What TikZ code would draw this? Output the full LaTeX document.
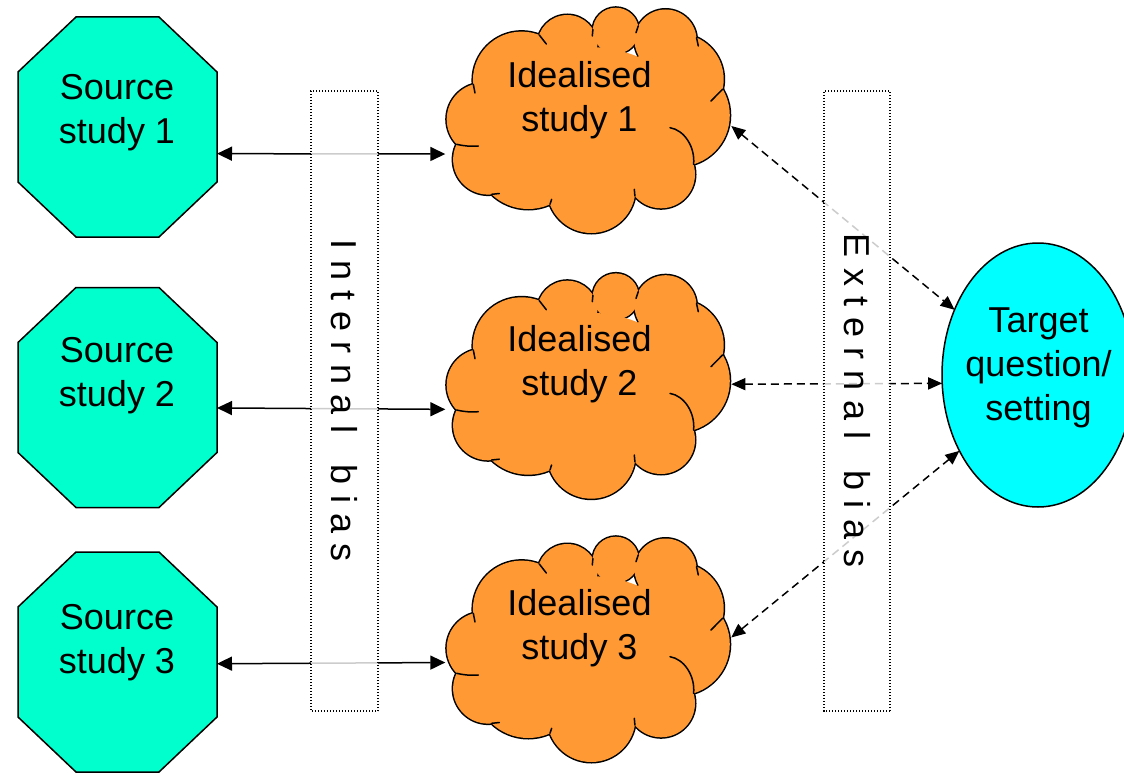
\documentclass[tikz,border=0pt]{standalone}
\usepackage{fontspec}
\setmainfont{Liberation Sans}
\usetikzlibrary{arrows.meta,shapes.geometric,calc}
\definecolor{octcol}{HTML}{00FFCC}
\definecolor{cloudcol}{HTML}{FF9933}
\definecolor{tgtcol}{HTML}{00FFFF}
\newcommand\gp{\hspace{10.5pt}}
\def\puffs{-105.3/-1.7/36.3, -66.7/-40.7/48.7, -21/-76/30, 27.5/-90.3/23, 77.3/-80.5/31, 89.7/-41.7/45.7, 90.2/-5.7/51.3, 72.7/53.3/34, 3/67.8/44.2, -60/34.7/53.3, -100.2/38.6/35}
\newcommand\octagonof[1]{%
  \path[octline] ($(#1.north west)+(58,0)$) -- ($(#1.north east)+(-58,0)$)
    -- ($(#1.north east)+(0,55)$) -- ($(#1.south east)+(0,-55)$)
    -- ($(#1.south east)+(-58,0)$) -- ($(#1.south west)+(58,0)$)
    -- ($(#1.south west)+(0,-55)$) -- ($(#1.north west)+(0,55)$) -- cycle;}
\newcommand\cloudat[1]{%
  \begin{scope}[shift={(#1.center)}]
    \foreach \cx/\cy/\cr in \puffs {\draw[line width=3pt] (\cx,\cy) circle[radius=\cr];}
    \foreach \cx/\cy/\cr in \puffs {\fill[cloudcol] (\cx,\cy) circle[radius=\cr];}
    \fill[cloudcol] (-0.3,-0.7) ellipse[x radius=100,y radius=73.3];
    \draw[cloudtail] (-131.7,23.3) to[bend right=8] (-110,25);
    \draw[cloudtail] (-115,-36.7) -- (-113.3,-28);
    \draw[cloudtail] (-49,-86) -- (-42,-77);
    \draw[cloudtail] (4.6,-91.4) -- (4,-85);
    \draw[cloudtail] (50,-95.1) -- (47.7,-88.3);
    \draw[cloudtail] (108.2,-83.4) -- (110,-75);
    \draw[cloudtail] (134.3,-31.8) -- (122.7,-20);
    \draw[cloudtail] (81.7,6.7) .. controls (96,9) and (107,26) .. (105.3,43.4);
    \draw[cloudtail] (46.6,75) -- (46,68.3);
    \draw[cloudtail] (-38.3,83.2) -- (-36.7,78.3);
    \draw[cloudtail] (-96.6,73.3) -- (-89,72.5);
  \end{scope}}

\begin{document}
\begin{tikzpicture}[x=1pt,y=-1pt,
  lbl/.style={align=center,font=\fontsize{36}{44}\selectfont,inner sep=0pt},
  octbox/.style={minimum width=199,minimum height=220,inner sep=0pt,outer sep=0pt},
  octline/.style={draw=black,fill=octcol,line width=1.5pt,line join=miter},
  cloudbox/.style={minimum width=286,minimum height=226,inner sep=0pt,outer sep=0pt},
  cloudtail/.style={line width=1.5pt,line cap=round},
  tgt/.style={ellipse,draw=black,fill=tgtcol,line width=1.5pt,minimum width=192,minimum height=264,inner sep=0pt,outer sep=0pt},
  solidarrow/.style={{Triangle[length=15pt,width=14pt]}-{Triangle[length=15pt,width=14pt]},line width=1.5pt},
  dasharrow/.style={{Triangle[length=14pt,width=12pt]}-{Triangle[length=14pt,width=12pt]},line width=1.5pt,dash pattern=on 8pt off 5pt},
  biasbox/.style={rotate=-90,draw=black,line width=1.2pt,dash pattern=on 1.2pt off 1.8pt,fill=white,fill opacity=0.8,text opacity=1,minimum width=620,minimum height=67,inner sep=0pt,font=\fontsize{36}{44}\selectfont}
]
\useasboundingbox (0,0) rectangle (1124,773);

% source studies (octagons)
\node[octbox] (s1) at (117.5,127) {};
\node[octbox] (s2) at (117.5,397.5) {};
\node[octbox] (s3) at (117.5,662) {};
\octagonof{s1}
\octagonof{s2}
\octagonof{s3}

% idealised studies (clouds)
\node[cloudbox] (c1) at (588.3,121) {};
\node[cloudbox] (c2) at (588.3,386.7) {};
\node[cloudbox] (c3) at (588.3,650) {};
\cloudat{c1}
\cloudat{c2}
\cloudat{c3}

% target
\node[tgt] (t) at (1038,375) {};

% texts
\node[lbl] (s1t) at (117,113) {Source\\study 1};
\node[lbl] (s2t) at (117,376) {Source\\study 2};
\node[lbl] (s3t) at (117,643) {Source\\study 3};
\node[lbl] (c1t) at (579.5,100) {Idealised\\study 1};
\node[lbl] (c2t) at (579.5,364) {Idealised\\study 2};
\node[lbl] (c3t) at (579.5,628) {Idealised\\study 3};
\node[lbl] (tt) at (1038.5,368) {Target\\question/\\setting};

% connectors
\draw[solidarrow] (s1.345) -- (c1.193);
\draw[solidarrow] (s2.354) -- (c2.189);
\draw[solidarrow] (s3.359) -- (c3.185);
\draw[dasharrow] (c1.358) -- (t.142);
\draw[dasharrow] (c2.1) -- (t.185);
\draw[dasharrow] (c3.5) -- (t.224);

% bias boxes
\node[biasbox] (ib) at (344.5,401) {I\gp n\gp t\gp e\gp r\gp n\gp a\gp l\gp\ \gp b\gp i\gp a\gp s};
\node[biasbox,minimum height=66] (eb) at (857,401) {E\gp x\gp t\gp e\gp r\gp n\gp a\gp l\gp\ \gp b\gp i\gp a\gp s};
\end{tikzpicture}
\end{document}
